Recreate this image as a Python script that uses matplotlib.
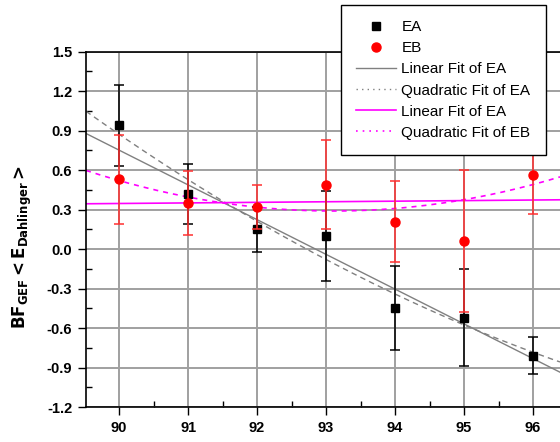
import numpy as np
import matplotlib
matplotlib.use("Agg")
from matplotlib import pyplot as plt
from matplotlib.lines import Line2D
from matplotlib.ticker import MultipleLocator, FormatStrFormatter

plt.rcParams["font.family"] = ["Liberation Sans", "DejaVu Sans"]

# 数据
x = [90, 91, 92, 93, 94, 95, 96]
ea = [0.94, 0.42, 0.15, 0.10, -0.45, -0.52, -0.81]
ea_err = [0.31, 0.23, 0.17, 0.34, 0.32, 0.37, 0.14]
eb = [0.53, 0.35, 0.32, 0.49, 0.21, 0.06, 0.56]
eb_err = [0.34, 0.24, 0.17, 0.34, 0.31, 0.54, 0.29]

# 拟合系数 y = a + b*(x-93) + c*(x-93)^2
lin_ea = [-0.04, -0.264, 0.0]
quad_ea = [-0.079, -0.276, 0.0137]
lin_eb = [0.36, 0.0044, 0.0]
quad_eb = [0.29, -0.005, 0.024]

xlim = (89.52, 96.39)
xx = np.linspace(xlim[0], xlim[1], 200)


def poly(c, xv):
    t = xv - 93
    return c[0] + c[1] * t + c[2] * t**2


fig = plt.figure(figsize=(5.6, 4.42), dpi=100)
ax = fig.add_axes([0.1536, 0.079, 0.8464, 0.804])

ax.grid(True, which="major", color="#a0a0a0", linewidth=1.4, zorder=0)
ax.set_axisbelow(True)

ax.errorbar(x, ea, yerr=ea_err, fmt="s", color="black", ms=5.5, capsize=3.5,
            elinewidth=1.1, capthick=1.1, zorder=3)
ax.errorbar(x, eb, yerr=eb_err, fmt="o", color="#ff0000", ecolor="#ff3030", ms=6.5,
            capsize=3.5, elinewidth=1.1, capthick=1.1, zorder=4)
l1, = ax.plot(xx, poly(lin_ea, xx), color="#808080", lw=1.0, zorder=2)
l2, = ax.plot(xx, poly(quad_ea, xx), color="#808080", lw=1.0, ls=(0, (4, 3)), zorder=2)
l3, = ax.plot(xx, poly(lin_eb, xx), color="#ff00ff", lw=1.2, zorder=2)
l4, = ax.plot(xx, poly(quad_eb, xx), color="#ff00ff", lw=1.2, ls=(0, (3, 3)), zorder=2)

ax.set_xlim(*xlim)
ax.set_ylim(-1.2, 1.5)
ax.xaxis.set_major_locator(MultipleLocator(1))
ax.xaxis.set_minor_locator(MultipleLocator(0.5))
ax.yaxis.set_major_locator(MultipleLocator(0.3))
ax.yaxis.set_minor_locator(MultipleLocator(0.15))
ax.yaxis.set_major_formatter(FormatStrFormatter("%.1f"))
ax.tick_params(which="major", direction="out", length=6, width=1, labelsize=10.5, pad=4)
ax.tick_params(which="minor", direction="in", length=4, width=1)
for lab in ax.get_xticklabels() + ax.get_yticklabels():
    lab.set_fontweight("bold")
for s in ["left", "bottom", "top"]:
    ax.spines[s].set_linewidth(1.2)
ax.spines["right"].set_visible(False)

fig.text(0.04, 1 - 247 / 442, r"$\mathbf{BF_{GEF}}$$\mathbf{<E_{Dahlinger}>}$",
         rotation=90, ha="center", va="center", fontsize=12)

# 图例
h_ea = Line2D([], [], ls="none", marker="s", color="black", ms=5.5)
h_eb = Line2D([], [], ls="none", marker="o", color="#ff0000", ms=6.5)
l2d = Line2D([], [], color="#808080", lw=1.0, ls=(0, (1, 3)))
l4d = Line2D([], [], color="#ff00ff", lw=1.2, ls=(0, (1, 3)))
leg = ax.legend([h_ea, h_eb, l1, l2d, l3, l4d],
                ["EA", "EB", "Linear Fit of EA", "Quadratic Fit of EA",
                 "Linear Fit of EA", "Quadratic Fit of EB"],
                loc="upper left", bbox_to_anchor=(0.538, 1.131), fontsize=11,
                frameon=True, fancybox=False, edgecolor="black", framealpha=1,
                handlelength=2.6, handletextpad=0.35, labelspacing=0.46,
                borderpad=1.0, borderaxespad=0, numpoints=1)
leg.get_frame().set_linewidth(1.0)
leg.set_zorder(10)

plt.savefig("out.png", dpi=100)
